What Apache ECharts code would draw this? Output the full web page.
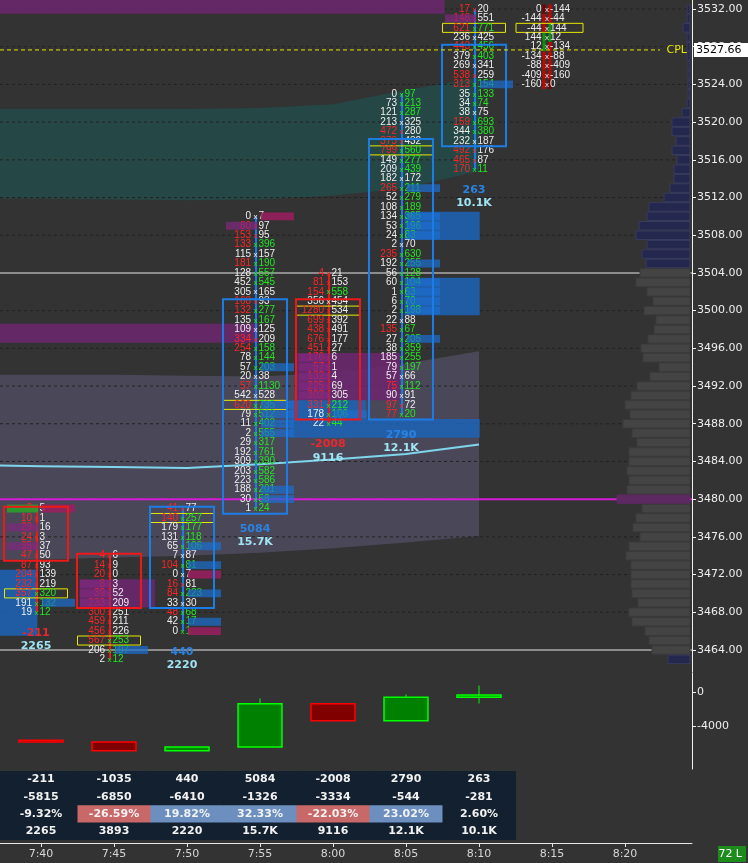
<!DOCTYPE html>
<html>
<head>
<meta charset="utf-8">
<title>ES footprint</title>
<script src="https://cdn.jsdelivr.net/npm/echarts@6/dist/echarts.min.js"></script>
<style>
  html, body { margin: 0; padding: 0; background: #333333; }
  #footprint-chart { width: 748px; height: 863px; }
</style>
</head>
<body>
<div id="footprint-chart"></div>
<script>
// time labels and price ticks
var times = ['7:40', '7:45', '7:50', '7:55', '8:00', '8:05', '8:10', '8:15', '8:20'];
var priceTicks = [3464, 3468, 3472, 3476, 3480, 3484, 3488, 3492, 3496, 3500, 3504, 3508, 3512, 3516, 3520, 3524, 3528, 3532];
var deltaTicks = [0, -4000];
var lastPrice = 3527.66;

// bars (open / close / high), rows listed from high down
var barHigh = [3479, 3474, 3479, 3510, 3504, 3523, 3532];
var barOpen = [3479, 3474, 3469, 3479, 3501, 3489, 3518];
var barClose = [3474, 3469, 3479, 3501, 3489, 3518, 3528];
var bidVol = [
    [2, 10, 29, 24, 35, 47, 87, 204, 232, 357, 191, 19],
    [4, 14, 20, 8, 39, 233, 300, 459, 456, 567, 206, 2],
    [41, 140, 179, 131, 65, 7, 104, 0, 16, 84, 33, 48, 42, 0],
    [0, 80, 153, 133, 115, 181, 128, 452, 305, 168, 132, 135, 109, 334, 254, 78, 57, 20, 57, 542, 620, 79, 11, 2, 29, 192, 309, 203, 223, 188, 30, 1],
    [4, 81, 154, 356, 1280, 699, 438, 676, 451, 176, 57, 132, 225, 302, 331, 178, 22],
    [0, 73, 121, 213, 472, 373, 799, 149, 209, 182, 265, 52, 108, 134, 53, 24, 2, 235, 192, 56, 60, 1, 6, 2, 22, 135, 27, 38, 185, 79, 57, 75, 90, 97, 77],
    [17, 148, 621, 236, 443, 379, 269, 538, 313, 35, 34, 38, 159, 344, 232, 492, 465, 170]
];
var askVol = [
    [5, 1, 16, 3, 37, 50, 93, 139, 219, 320, 132, 12],
    [6, 9, 0, 3, 52, 209, 251, 211, 226, 253, 197, 12],
    [77, 257, 177, 118, 106, 87, 81, 7, 81, 223, 30, 68, 17, 1],
    [7, 97, 95, 396, 157, 190, 557, 545, 165, 93, 277, 167, 125, 209, 158, 144, 203, 38, 1130, 528, 735, 512, 402, 555, 317, 761, 390, 582, 586, 201, 58, 24],
    [21, 153, 558, 454, 534, 392, 491, 177, 27, 6, 1, 4, 69, 305, 212, 106, 44],
    [97, 213, 287, 325, 280, 432, 560, 277, 439, 172, 211, 279, 189, 365, 196, 83, 70, 630, 255, 128, 104, 63, 70, 198, 88, 67, 205, 359, 255, 197, 66, 112, 91, 72, 20],
    [20, 551, 771, 425, 456, 403, 341, 259, 154, 133, 74, 75, 693, 380, 187, 176, 87, 11]
];

// bar statistics
var barDelta = [-211, -1035, 440, 5084, -2008, 2790, 263];
var cumDelta = [-5815, -6850, -6410, -1326, -3334, -544, -281];
var deltaPct = [-9.32, -26.59, 19.82, 32.33, -22.03, 23.02, 2.60];
var barVolume = [2265, 3893, 2220, 15725, 9116, 12120, 10100];
var deltaHigh = [-5604, -5815, -6410, -700, -1326, -230, 820];
var deltaLow = [-5830, -6850, -6850, -6410, -3334, -3334, -1290];

// diagonal delta column of the last bar, from 3532 down
var diagTop = 3532;
var diagDelta = [0, -144, -44, 144, 12, -134, -88, -409, -160, 0];

// session volume profile, from 3532 down to 3463
var profileTop = 3532;
var profileVol = [
    150, 150, 350, 150, 150, 150, 100, 100, 100, 100,
    150, 400, 900, 900, 700, 900, 650, 800, 800, 1000,
    1300, 2050, 2150, 2550, 2700, 2150, 2400, 2200, 2500, 2700,
    2150, 1850, 2300, 1700, 1800, 2100, 2450, 2350, 1550, 2000,
    2650, 2950, 3250, 3000, 3350, 2900, 2650, 3050, 3050, 3150,
    3050, 3150, 3650, 2400, 2700, 2850, 2500, 3050, 3200, 2950,
    2950, 2950, 2900, 2600, 3050, 2900, 2250, 2050, 1900, 1100
];
var vaHigh = 3504, vaLow = 3464, profilePoc = 3480;

// vwap and bands, per bar (index -1 is the bar before 7:40)
var bandX = [-1, 0, 1, 2, 3, 4, 5, 6];
var upper3 = [3521.4, 3521.4, 3521.4, 3521.4, 3521.5, 3521.9, 3523.4, 3524.7];
var upper2 = [3511.9, 3511.9, 3511.8, 3511.7, 3511.8, 3512.2, 3513.0, 3514.8];
var upper1 = [3493.2, 3493.2, 3493.2, 3493.1, 3493.0, 3493.4, 3494.4, 3495.7];
var vwap = [3483.6, 3483.5, 3483.4, 3483.3, 3483.7, 3484.2, 3484.8, 3485.8];
var lower1 = [3473.5, 3473.6, 3473.8, 3474.0, 3474.3, 3474.8, 3475.4, 3476.1];

// imbalance zones carried right: [from bar, to bar, low price, high price, 0 = bid / 1 = ask]
var zones = [
    [-1, 5.53, 3531.5, 3537, 0],
    [-1, 2.97, 3496.6, 3498.6, 0],
    [0.53, 1.56, 3468.5, 3471.5, 0],
    [3.49, 4.92, 3490.5, 3495.5, 0],
    [3.40, 4.45, 3488.5, 3490.5, 1],
    [3.40, 6.01, 3486.5, 3488.5, 1],
    [4.98, 6.01, 3507.5, 3510.5, 1],
    [4.98, 6.01, 3499.5, 3503.5, 1],
    [-1, -0.05, 3465.5, 3472.5, 1]
];
// extra cell marks: [bar, price, side 0 bid / 1 ask, kind 2 green / 3 crimson]
var extraMarks = [[0, 3479, 0, 2], [0, 3479, 1, 3], [2, 3472, 1, 3], [2, 3466, 1, 3], [3, 3510, 1, 3]];
var levelLines = [3504, 3464];
var magentaLevel = 3480;

var X0 = -41 / 73, X1 = 651 / 73;
var PRICE_MIN = 3461.66, PRICE_MAX = 3532.955;
var PROFILE_MAX = 692 * 50;
var COL_SHIFT = -5;

var WHITE = '#eeeeee', RED = '#ff2424', GREEN = '#22e622';
var BOX_BLUE = '#1c7ce6', BOX_RED = '#ee1818';
var FP_FONT = '10px "Liberation Sans", "DejaVu Sans", sans-serif';
var X_FONT = '8px "Liberation Sans", sans-serif';

function fmtVol(v) {
    return v >= 10000 ? (v / 1000).toFixed(1) + 'K' : String(v);
}

// build per cell data
var cellData = [], hiData = [], pocPrice = [], boxData = [], labelData = [], candleData = [], tableData = [];
for (var b = 0; b < barHigh.length; b++) {
    var n = bidVol[b].length;
    var best = -1;
    for (var k = 0; k < n; k++) {
        var p = barHigh[b] - k;
        var bid = bidVol[b][k], ask = askVol[b][k];
        var askAbove = k > 0 ? askVol[b][k - 1] : 0;
        var bidBelow = k < n - 1 ? bidVol[b][k + 1] : 0;
        cellData.push([b, p, bid, ask, bid > askAbove ? 1 : 0, ask > bidBelow ? 1 : 0]);
        if (k > 0 && bid > 0 && bid >= 4 * askAbove) hiData.push([b, p, 0, 1]);
        if (k < n - 1 && ask > 0 && ask >= 4 * bidBelow) hiData.push([b, p, 1, 0]);
        if (bid + ask > best) { best = bid + ask; pocPrice[b] = p; }
    }
    var low = barHigh[b] - n + 1;
    boxData.push([b, Math.max(barOpen[b], barClose[b]), Math.min(barOpen[b], barClose[b]), barClose[b] >= barOpen[b] ? 1 : 0, barHigh[b], low]);
    labelData.push([b, low, barDelta[b], barVolume[b]]);
    candleData.push([b, cumDelta[b] - barDelta[b], cumDelta[b], deltaLow[b], deltaHigh[b]]);
    for (var r = 0; r < 4; r++) tableData.push([b, r]);
}
extraMarks.forEach(function (m) { hiData.push(m); });
var profileData = profileVol.map(function (v, i) { return [v, profileTop - i]; });
var diagData = [];
for (var d = 0; d < diagDelta.length - 1; d++) diagData.push([6, diagTop - d, diagDelta[d], diagDelta[d + 1]]);
var timeTicks = times.map(function (t, i) { return i; });

function hline(api, p, stroke, width, dash) {
    var a = api.coord([X0, p]), c = api.coord([X1, p]);
    return {type: 'line', shape: {x1: a[0], y1: a[1], x2: c[0], y2: c[1]}, style: {stroke: stroke, lineWidth: width, lineDash: dash || null}};
}

function bandPoints(api, top, bottom) {
    var pts = [];
    for (var i = 0; i < bandX.length; i++) pts.push(api.coord([bandX[i], top[i]]));
    for (var j = bandX.length - 1; j >= 0; j--) pts.push(api.coord([bandX[j], bottom[j]]));
    return pts;
}

var myChart = echarts.init(document.getElementById('footprint-chart'));

var option = {
    backgroundColor: '#333333',
    animation: false,
    grid: [
        {left: 0, right: 56, top: 0, height: 672},
        {left: 0, right: 56, top: 673, height: 96},
        {left: 0, right: 56, top: 771, height: 72}
    ],
    xAxis: [
        {gridIndex: 0, type: 'value', min: X0, max: X1, show: false},
        {gridIndex: 0, type: 'value', min: 0, max: PROFILE_MAX, inverse: true, position: 'top', show: false},
        {gridIndex: 1, type: 'value', min: X0, max: X1, show: false},
        {
            gridIndex: 2, type: 'value', min: X0, max: X1, position: 'bottom',
            axisLine: {show: true, onZero: false, lineStyle: {color: '#e6e6e6', width: 1}},
            axisTick: {show: true, customValues: timeTicks, length: 4, lineStyle: {color: '#e6e6e6'}},
            axisLabel: {
                customValues: timeTicks, color: '#d6d6d6', fontSize: 11, fontFamily: 'DejaVu Sans', margin: 6,
                formatter: function (v) { return times[Math.round(v)]; }
            },
            splitLine: {show: false}
        }
    ],
    yAxis: [
        {
            gridIndex: 0, type: 'value', min: PRICE_MIN, max: PRICE_MAX, position: 'right',
            axisLine: {show: true, onZero: false, lineStyle: {color: '#f0f0f0', width: 1}},
            axisTick: {show: true, customValues: priceTicks, length: 4, lineStyle: {color: '#f0f0f0'}},
            axisLabel: {
                customValues: priceTicks, color: '#eeeeee', fontSize: 11, fontFamily: 'DejaVu Sans', margin: 5,
                formatter: function (v) { return v.toFixed(2); }
            },
            splitLine: {show: false}
        },
        {
            gridIndex: 1, type: 'value', min: -9000, max: 2300, position: 'right',
            axisLine: {show: true, onZero: false, lineStyle: {color: '#f0f0f0', width: 1}},
            axisTick: {show: true, customValues: deltaTicks, length: 4, lineStyle: {color: '#f0f0f0'}},
            axisLabel: {
                customValues: deltaTicks, color: '#eeeeee', fontSize: 11, fontFamily: 'DejaVu Sans', margin: 5,
                formatter: function (v) { return String(v); }
            },
            splitLine: {show: false}
        },
        {gridIndex: 2, type: 'value', min: 0, max: 4.2, inverse: true, show: false}
    ],
    graphic: [
        {type: 'rect', right: 2, bottom: 1, shape: {width: 28, height: 16}, style: {fill: '#1d8c1d'}, z: 20},
        {type: 'text', right: 6, bottom: 3, style: {text: '72 L', fill: '#ffffff', font: '11px "DejaVu Sans"'}, z: 21}
    ],
    series: [
        {   // vwap bands
            type: 'custom', xAxisIndex: 0, yAxisIndex: 0, clip: true, z: 1,
            data: [[X0, PRICE_MIN]],
            renderItem: function (params, api) {
                return {type: 'group', children: [
                    {type: 'polygon', shape: {points: bandPoints(api, upper3, upper2)}, style: {fill: '#254745'}},
                    {type: 'polygon', shape: {points: bandPoints(api, upper1, lower1)}, style: {fill: '#4a4858'}}
                ]};
            }
        },
        {   // dashed price grid
            type: 'custom', xAxisIndex: 0, yAxisIndex: 0, z: 2,
            data: priceTicks.map(function (p) { return [X0, p]; }),
            renderItem: function (params, api) {
                return hline(api, api.value(1), '#222222', 1, [3, 3]);
            }
        },
        {   // imbalance zones
            type: 'custom', xAxisIndex: 0, yAxisIndex: 0, clip: true, z: 3,
            data: zones,
            renderItem: function (params, api) {
                var a = api.coord([api.value(0), api.value(3)]), c = api.coord([api.value(1), api.value(2)]);
                return {type: 'rect', shape: {x: a[0], y: a[1], width: c[0] - a[0], height: c[1] - a[1]},
                    style: {fill: api.value(4) ? 'rgba(30,98,180,0.88)' : 'rgba(108,38,112,0.86)'}};
            }
        },
        {   // level lines
            type: 'custom', xAxisIndex: 0, yAxisIndex: 0, z: 4,
            data: levelLines.map(function (p) { return [X0, p, 0]; }).concat([[X0, magentaLevel, 1]]),
            renderItem: function (params, api) {
                return hline(api, api.value(1), api.value(2) ? '#d61cd6' : '#8c8c8c', 2);
            }
        },
        {   // vwap
            type: 'custom', xAxisIndex: 0, yAxisIndex: 0, clip: true, z: 5,
            data: [[X0, PRICE_MIN]],
            renderItem: function (params, api) {
                var pts = bandX.map(function (x, i) { return api.coord([x, vwap[i]]); });
                return {type: 'polyline', shape: {points: pts}, style: {stroke: '#7fd6ec', lineWidth: 2, fill: null}};
            }
        },
        {   // volume profile
            type: 'custom', xAxisIndex: 1, yAxisIndex: 0, z: 5,
            data: profileData,
            renderItem: function (params, api) {
                var v = api.value(0), p = api.value(1);
                var a = api.coord([v, p + 0.45]), c = api.coord([0, p - 0.45]);
                var fill = '#444444', stroke = '#3b3b3b';
                if (p === profilePoc) { fill = '#5c2a60'; stroke = '#5c2a60'; }
                else if (p > vaHigh || p < vaLow) { fill = '#24274e'; stroke = '#383c5e'; }
                return {type: 'rect', shape: {x: a[0] - 2, y: a[1], width: c[0] - a[0], height: c[1] - a[1]},
                    style: {fill: fill, stroke: stroke, lineWidth: 1}};
            }
        },
        {   // wicks
            type: 'custom', xAxisIndex: 0, yAxisIndex: 0, z: 6,
            data: boxData,
            renderItem: function (params, api) {
                var b = api.value(0);
                var t = api.coord([b, api.value(4)]), l = api.coord([b, api.value(5)]);
                var cx = t[0] + COL_SHIFT + 1;
                return {type: 'line', shape: {x1: cx, y1: t[1], x2: cx, y2: l[1]},
                    style: {stroke: api.value(3) ? BOX_BLUE : BOX_RED, lineWidth: 2}};
            }
        },
        {   // point of control rows
            type: 'custom', xAxisIndex: 0, yAxisIndex: 0, z: 7,
            data: pocPrice.map(function (p, i) { return [i, p]; }),
            renderItem: function (params, api) {
                var a = api.coord([api.value(0), api.value(1) + 0.48]), c = api.coord([api.value(0), api.value(1) - 0.48]);
                var cx = a[0] + COL_SHIFT;
                return {type: 'rect', shape: {x: cx - 31.5, y: a[1], width: 63, height: c[1] - a[1]},
                    style: {fill: 'none', stroke: '#e8e800', lineWidth: 1}};
            }
        },
        {   // bid x ask cells
            type: 'custom', xAxisIndex: 0, yAxisIndex: 0, z: 8,
            data: cellData,
            renderItem: function (params, api) {
                var pt = api.coord([api.value(0), api.value(1)]);
                var cx = pt[0] + COL_SHIFT, cy = pt[1];
                var bidRed = api.value(4), askGreen = api.value(5);
                return {type: 'group', children: [
                    {type: 'text', x: cx - 4, y: cy, style: {text: String(api.value(2)), fill: bidRed ? RED : WHITE, font: FP_FONT, align: 'right', verticalAlign: 'middle'}},
                    {type: 'text', x: cx + 0.5, y: cy + 0.5, style: {text: 'x', fill: askGreen ? GREEN : (bidRed ? RED : WHITE), font: X_FONT, align: 'center', verticalAlign: 'middle'}},
                    {type: 'text', x: cx + 3.5, y: cy, style: {text: String(api.value(3)), fill: askGreen ? GREEN : WHITE, font: FP_FONT, align: 'left', verticalAlign: 'middle'}}
                ]};
            }
        },
        {   // diagonal delta column of the last bar
            type: 'custom', xAxisIndex: 0, yAxisIndex: 0, z: 8,
            data: diagData,
            renderItem: function (params, api) {
                var b = api.value(0), p = api.value(1), l = api.value(2), r = api.value(3);
                var pt = api.coord([b, p]);
                var cx = pt[0] + COL_SHIFT, cy = pt[1];
                function sign(v) { return v > 0 ? '#0c9a0c' : (v < 0 ? '#d40000' : '#7a0000'); }
                var ch = [
                    {type: 'rect', shape: {x: cx + 68.5, y: cy - 4.5, width: 3, height: 9}, style: {fill: sign(l)}},
                    {type: 'rect', shape: {x: cx + 74.5, y: cy - 4.5, width: 3, height: 9}, style: {fill: sign(r)}},
                    {type: 'text', x: cx + 67.5, y: cy, style: {text: String(l), fill: WHITE, font: FP_FONT, align: 'right', verticalAlign: 'middle'}},
                    {type: 'text', x: cx + 73, y: cy + 0.5, style: {text: 'x', fill: WHITE, font: X_FONT, align: 'center', verticalAlign: 'middle'}},
                    {type: 'text', x: cx + 76, y: cy, style: {text: String(r), fill: WHITE, font: FP_FONT, align: 'left', verticalAlign: 'middle'}}
                ];
                if (p === pocPrice[b]) {
                    var a = api.coord([b, p + 0.48]), c = api.coord([b, p - 0.48]);
                    ch.push({type: 'rect', shape: {x: cx + 42, y: a[1], width: 67, height: c[1] - a[1]}, style: {fill: 'none', stroke: '#e8e800', lineWidth: 1}});
                }
                return {type: 'group', children: ch};
            }
        },
        {   // imbalance highlights
            type: 'custom', xAxisIndex: 0, yAxisIndex: 0, z: 9,
            data: hiData,
            renderItem: function (params, api) {
                var b = api.value(0), p = api.value(1), side = api.value(2), kind = api.value(3);
                var a = api.coord([b, p + 0.42]), c = api.coord([b, p - 0.42]);
                var cx = a[0] + COL_SHIFT;
                var fills = ['rgba(28,110,205,0.72)', 'rgba(128,40,126,0.72)', 'rgba(40,165,40,0.85)', 'rgba(160,28,96,0.82)'];
                var x = side ? cx + 6 : cx - 29, w = side ? 33 : 31;
                return {type: 'rect', shape: {x: x, y: a[1], width: w, height: c[1] - a[1]}, style: {fill: fills[kind]}};
            }
        },
        {   // bar bodies
            type: 'custom', xAxisIndex: 0, yAxisIndex: 0, z: 10,
            data: boxData,
            renderItem: function (params, api) {
                var b = api.value(0);
                var a = api.coord([b, api.value(1) + 0.2]), c = api.coord([b, api.value(2) - 0.55]);
                var cx = a[0] + COL_SHIFT;
                return {type: 'rect', shape: {x: cx - 32, y: a[1], width: 64, height: c[1] - a[1]},
                    style: {fill: 'none', stroke: api.value(3) ? BOX_BLUE : BOX_RED, lineWidth: 2}};
            }
        },
        {   // delta and volume under each bar
            type: 'custom', xAxisIndex: 0, yAxisIndex: 0, clip: true, z: 11,
            data: labelData,
            renderItem: function (params, api) {
                var b = api.value(0), low = api.value(1), d = api.value(2), v = api.value(3);
                var a = api.coord([b, low - 2.2]), c = api.coord([b, low - 3.6]);
                var cx = a[0] + COL_SHIFT;
                return {type: 'group', children: [
                    {type: 'text', x: cx, y: a[1], style: {text: String(d), fill: d < 0 ? '#e8282c' : '#2c82e0', font: 'bold 11px "DejaVu Sans"', align: 'center', verticalAlign: 'middle'}},
                    {type: 'text', x: cx, y: c[1], style: {text: fmtVol(v), fill: '#9fe4f4', font: 'bold 11px "DejaVu Sans"', align: 'center', verticalAlign: 'middle'}}
                ]};
            }
        },
        {   // current price line and label
            type: 'custom', xAxisIndex: 0, yAxisIndex: 0, z: 12,
            data: [[X0, lastPrice]],
            renderItem: function (params, api) {
                var a = api.coord([X0, api.value(1)]), right = api.coord([X1, api.value(1)])[0];
                var y = a[1];
                return {type: 'group', children: [
                    {type: 'line', shape: {x1: a[0], y1: y, x2: right - 32, y2: y}, style: {stroke: '#e8e800', lineWidth: 1, lineDash: [4, 3]}},
                    {type: 'text', x: right - 5, y: y, style: {text: 'CPL', fill: '#e8e800', font: '11px "DejaVu Sans"', align: 'right', verticalAlign: 'middle'}},
                    {type: 'rect', shape: {x: right + 2, y: y - 7, width: 54, height: 14}, style: {fill: '#ffffff'}},
                    {type: 'text', x: right + 4, y: y, style: {text: api.value(1).toFixed(2), fill: '#000000', font: '11px "DejaVu Sans"', align: 'left', verticalAlign: 'middle'}}
                ]};
            }
        },
        {   // cumulative delta candles
            type: 'custom', xAxisIndex: 2, yAxisIndex: 1, z: 5,
            data: candleData,
            renderItem: function (params, api) {
                var b = api.value(0), o = api.value(1), c = api.value(2);
                var up = c >= o;
                var po = api.coord([b, o]), pc = api.coord([b, c]);
                var ph = api.coord([b, api.value(4)]), pl = api.coord([b, api.value(3)]);
                var top = Math.min(po[1], pc[1]), h = Math.max(Math.abs(po[1] - pc[1]), 1);
                var stroke = up ? '#00ff00' : '#ff0000';
                return {type: 'group', children: [
                    {type: 'line', shape: {x1: po[0], y1: ph[1], x2: po[0], y2: pl[1]}, style: {stroke: stroke, lineWidth: 1}},
                    {type: 'rect', shape: {x: po[0] - 22, y: top, width: 44, height: h}, style: {fill: up ? '#008000' : '#800000', stroke: stroke, lineWidth: 1.5}}
                ]};
            }
        },
        {   // statistics table
            type: 'custom', xAxisIndex: 3, yAxisIndex: 2, z: 5,
            data: tableData,
            renderItem: function (params, api) {
                var b = api.value(0), r = api.value(1);
                var a = api.coord([b === 0 ? X0 : b - 0.5, r]), c = api.coord([b + 0.5, r + 1]);
                var fill = '#13202f';
                if (r === 2 && Math.abs(deltaPct[b]) >= 10) fill = deltaPct[b] < 0 ? '#c86868' : '#6c8fbf';
                var txt = r === 0 ? String(barDelta[b]) : r === 1 ? String(cumDelta[b]) : r === 2 ? deltaPct[b].toFixed(2) + '%' : fmtVol(barVolume[b]);
                var mid = api.coord([b, r + 0.5]);
                return {type: 'group', children: [
                    {type: 'rect', shape: {x: a[0], y: a[1], width: c[0] - a[0] + 0.5, height: c[1] - a[1] + 0.5}, style: {fill: fill}},
                    {type: 'text', x: mid[0], y: mid[1], style: {text: txt, fill: '#f2f2f2', font: 'bold 11px "DejaVu Sans"', align: 'center', verticalAlign: 'middle'}}
                ]};
            }
        }
    ]
};

myChart.setOption(option);
</script>
</body>
</html>
